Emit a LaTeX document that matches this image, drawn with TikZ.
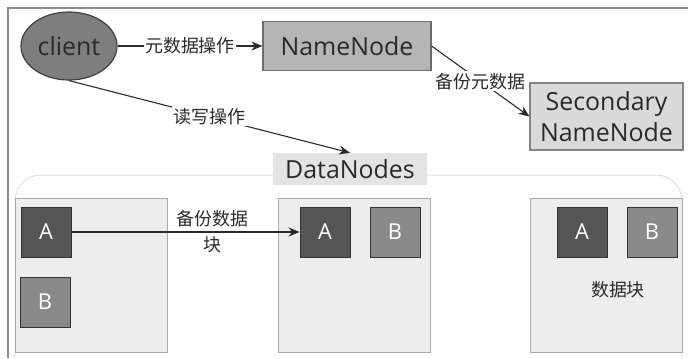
\documentclass[tikz,border=0pt]{standalone}
\usepackage{fontspec}
\setmainfont{Open Sans}
\newfontfamily\cjk{Noto Sans CJK SC}
\usetikzlibrary{shapes.geometric,arrows.meta}

\definecolor{frameline}{HTML}{8C8C8C}
\definecolor{groupline}{HTML}{E2E2E2}
\definecolor{clientfill}{HTML}{7E7E7E}
\definecolor{nnfill}{HTML}{B5B5B5}
\definecolor{snnfill}{HTML}{DADADA}
\definecolor{dnlabelfill}{HTML}{E4E4E4}
\definecolor{dnfill}{HTML}{EDEDED}
\definecolor{dnline}{HTML}{A9A9A9}
\definecolor{blockA}{HTML}{555555}
\definecolor{blockB}{HTML}{8A8A8A}
\definecolor{ink}{HTML}{2A2A2A}

\tikzset{
  bigtext/.style={font=\fontsize{25}{28}\selectfont, text=ink},
  cjklabel/.style={font=\cjk\fontsize{18}{26}\selectfont, text=ink},
  masterbox/.style={rectangle, draw=#1!60!black, line width=1.2pt, bigtext, inner sep=0pt},
  datanode/.style={rectangle, draw=dnline, fill=dnfill, line width=1pt,
    minimum width=152bp, minimum height=154bp, inner sep=0pt},
  blockbox/.style={rectangle, fill=#1, draw=black!80, line width=1pt,
    minimum width=50bp, minimum height=50bp, inner sep=0pt, text=white,
    font=\fontsize{22}{24}\selectfont},
  flow/.style={draw=ink, line width=1.1pt, -{Stealth[length=11bp,width=9bp]}},
  edgelabel/.style={cjklabel, fill=white, inner sep=1.5pt},
}

\begin{document}
\begin{tikzpicture}[x=1bp, y=-1bp]
  \useasboundingbox (0,0) rectangle (688,358);
  \fill[white] (0,0) rectangle (688,358);

  % frame edges
  \draw[frameline, line width=1.4pt] (8,358) -- (8,8) -- (688,8);

  % outline of the DataNodes group
  \draw[groupline, line width=1pt, rounded corners=26bp] (15,358) -- (15,175) -- (682,175) -- (682,358);

  % masters
  \node[ellipse, fill=clientfill, draw=black!75, line width=1.2pt,
        minimum width=96bp, minimum height=68bp, inner sep=0pt, bigtext]
        (client) at (69,46) {client};
  \node[masterbox=nnfill, fill=nnfill, minimum width=168bp, minimum height=49bp]
        (nn) at (347,46) {NameNode};
  \node[masterbox=snnfill, fill=snnfill, minimum width=153bp, minimum height=67bp,
        align=center, font=\fontsize{25}{31}\selectfont]
        (snn) at (606.5,116.5) {Secondary\\NameNode};

  % data nodes
  \node[datanode] (dn1) at (91,275) {};
  \node[datanode] (dn2) at (354.5,275) {};
  \node[datanode] (dn3) at (606,275) {};
  \node[fill=dnlabelfill, minimum width=154bp, minimum height=32bp, inner sep=0pt, bigtext]
        (dnlabel) at (350,169) {DataNodes};

  % blocks
  \node[blockbox=blockA] (a1) at (46,232) {A};
  \node[blockbox=blockB] (b1) at (45,302) {B};
  \node[blockbox=blockA] (a2) at (325,232) {A};
  \node[blockbox=blockB] (b2) at (395,232) {B};
  \node[blockbox=blockA] (a3) at (582,232) {A};
  \node[blockbox=blockB] (b3) at (652,232) {B};
  \node[cjklabel] (blk) at (618,290) {数据块};

  % connectors
  \draw[flow] (client) -- node[edgelabel] {元数据操作} (nn);
  \draw[flow] (nn.east) -- node[edgelabel] {备份元数据} (snn.west);
  \draw[flow] (client.south) -- node[edgelabel, pos=0.5] {读写操作} (dnlabel.north);
  \draw[flow] (a1.east) -- node[cjklabel, align=center, pos=0.62, inner sep=0pt] {备份数据\\块} (a2.west);
\end{tikzpicture}
\end{document}
